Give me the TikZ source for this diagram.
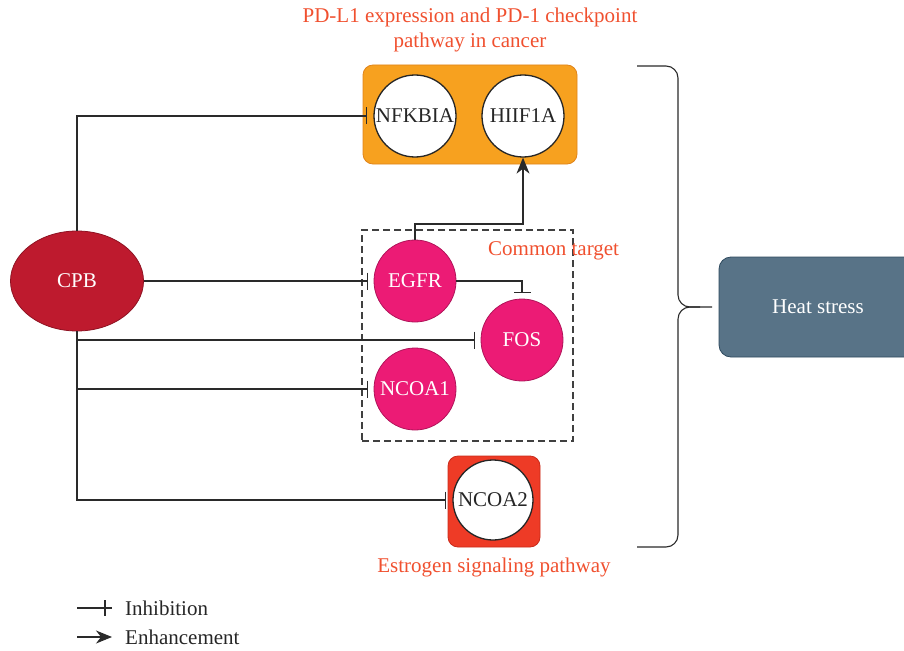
\documentclass[tikz,border=0pt]{standalone}
\usepackage{fontspec}
\setmainfont{Liberation Serif}
\usetikzlibrary{arrows.meta,shapes.geometric}
\definecolor{titlered}{HTML}{F0502F}
\definecolor{cpbred}{HTML}{BE1A2E}
\definecolor{cpbedge}{HTML}{8E1222}
\definecolor{pinkc}{HTML}{EC1B75}
\definecolor{pinkedge}{HTML}{B0145A}
\definecolor{orangec}{HTML}{F7A11F}
\definecolor{orangeedge}{HTML}{E0841A}
\definecolor{redbox}{HTML}{EE3B26}
\definecolor{redboxedge}{HTML}{C92A1A}
\definecolor{heatc}{HTML}{587387}
\definecolor{heatedge}{HTML}{2E4A5E}
\definecolor{linec}{HTML}{2A2A2A}
\newcommand{\dfont}{\fontsize{21}{25}\selectfont}
\begin{document}
\begin{tikzpicture}[x=1pt,y=-1pt,
  every node/.style={font=\dfont},
  gene/.style={circle, draw=black!85, line width=1.3pt, fill=white, minimum size=82pt, inner sep=0pt, text=black!85},
  pinkgene/.style={circle, draw=pinkedge, line width=0.8pt, fill=pinkc, minimum size=82pt, inner sep=0pt, text=white},
  inh/.style={draw=linec, line width=1.1pt, -{Bar[width=17pt,line width=1.1pt]}, shorten >=6pt},
  enh/.style={draw=linec, line width=1.1pt, -{Stealth[length=16pt,width=13pt,inset=5pt]}},
  label/.style={text=titlered, inner sep=0pt},
  brace/.style={draw=linec, line width=1.1pt, rounded corners=12pt}
]
\useasboundingbox (0,0) rectangle (904,650);

% titles
\node[label, align=center] (title) at (470,30) {PD-L1 expression and PD-1 checkpoint\\pathway in cancer};

% group boxes
\node[draw=orangeedge, fill=orangec, line width=0.8pt, rounded corners=10pt, minimum width=214pt, minimum height=99pt, inner sep=0pt] (pdbox) at (470,114.5) {};
\node[draw=black!75, line width=1.1pt, dash pattern=on 7pt off 4pt, minimum width=211pt, minimum height=211pt, inner sep=0pt] (common) at (467.5,335.5) {};
\node[draw=redboxedge, fill=redbox, line width=0.8pt, rounded corners=10pt, minimum width=92pt, minimum height=91pt, inner sep=0pt] (estbox) at (494,501.5) {};

\node[label, anchor=west] (commonlbl) at (488,251) {Common target};
\node[label] (estlbl) at (494,567) {Estrogen signaling pathway};

% genes
\node[gene] (nfkbia) at (415,116) {NFKBIA};
\node[gene] (hif) at (523,116) {HIIF1A};
\node[pinkgene] (egfr) at (415,281) {EGFR};
\node[pinkgene] (fos) at (522,340) {FOS};
\node[pinkgene] (ncoa1) at (415,389) {NCOA1};
\node[gene, minimum size=80pt] (ncoa2) at (493,500) {NCOA2};

% CPB
\node[ellipse, draw=cpbedge, fill=cpbred, line width=0.8pt, minimum width=133pt, minimum height=100pt, inner sep=0pt, text=white] (cpb) at (77,281) {CPB};

% heat stress
\node[draw=heatedge, fill=heatc, line width=0.8pt, rounded corners=12pt, minimum width=198pt, minimum height=100pt, inner sep=0pt, text=white] (heat) at (818,307) {Heat stress};

% connectors
\draw[inh] (cpb.north) |- (nfkbia.west);
\draw[inh] (cpb.east) -- (egfr.west);
\draw[inh] (cpb.south) |- (fos.west);
\draw[inh] (cpb.south) |- (ncoa1.west);
\draw[inh] (cpb.south) |- (ncoa2.west);
\draw[inh] (egfr.east) -| (fos.north);
\coordinate (up) at (415,224);
\draw[enh] (egfr.north) -- (up) -| (hif.south);

% brace
\draw[brace] (637,66) -- (678,66) -- (678,307) -- (712,307);
\draw[brace] (637,547) -- (678,547) -- (678,307) -- (700,307);

% legend
\coordinate (i1) at (77,608);
\coordinate (i2) at (112,608);
\coordinate (e1) at (77,637);
\coordinate (e2) at (112,637);
\draw[draw=linec, line width=1.1pt] (i1) -- (i2);
\draw[draw=linec, line width=1.1pt] (105,600) -- (105,616);
\draw[enh] (e1) -- (e2);
\node[anchor=west, inner sep=0pt, text=black!85] (inhlbl) at (125,608) {Inhibition};
\node[anchor=west, inner sep=0pt, text=black!85] (enhlbl) at (125,637) {Enhancement};
\end{tikzpicture}
\end{document}
